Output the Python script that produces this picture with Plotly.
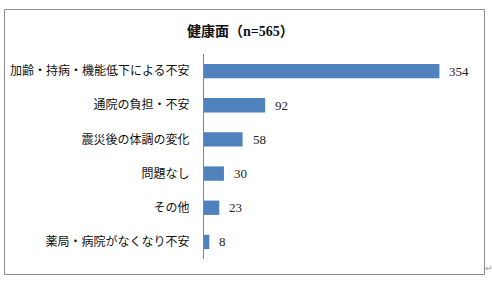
import plotly.graph_objects as go

categories = ["加齢・持病・機能低下による不安", "通院の負担・不安", "震災後の体調の変化", "問題なし", "その他", "薬局・病院がなくなり不安"]
values = [354, 92, 58, 30, 23, 8]
title_text = "健康面（n=565）"

W, H = 492, 286
L, R, T, B = 204, 22, 54, 27
pw = W - L - R
ph = H - T - B

fig = go.Figure(go.Bar(
    x=values, y=categories, orientation="h",
    marker=dict(color="#4F81BD", line=dict(width=0)),
    width=0.42, hoverinfo="x+y",
))

for v, c in zip(values, categories):
    fig.add_annotation(x=v, y=c, text=str(v), showarrow=False, xanchor="left",
                       xshift=8, font=dict(family="Liberation Serif, DejaVu Serif, serif", size=13, color="#222"))

def px_x(p):
    return (p - L) / pw

def px_y(p):
    return 1 - (p - T) / ph

fig.add_shape(type="rect", xref="paper", yref="paper",
              x0=px_x(4.5), x1=px_x(484.5), y0=px_y(274.5), y1=px_y(9.5),
              line=dict(color="#8c8c8c", width=1), fillcolor="rgba(0,0,0,0)", layer="below")

fig.add_annotation(xref="paper", yref="paper", x=px_x(240), y=px_y(31), text="<b>" + title_text + "</b>",
                   showarrow=False, xanchor="center", yanchor="middle",
                   font=dict(family="Liberation Serif, Noto Sans CJK JP", size=14, color="#111"))

fig.add_annotation(xref="paper", yref="paper", x=px_x(489), y=px_y(268), text="↵",
                   showarrow=False, xanchor="center", yanchor="middle",
                   font=dict(family="DejaVu Sans", size=9, color="#999"))

fig.update_layout(
    width=W, height=H,
    margin=dict(l=L, r=R, t=T, b=B, autoexpand=False),
    paper_bgcolor="white", plot_bgcolor="white",
    showlegend=False,
    bargap=0.58,
    xaxis=dict(range=[0, 400], visible=False, fixedrange=True, automargin=False),
    yaxis=dict(autorange="reversed", showline=True, linecolor="#868686", linewidth=1,
               ticks="", ticklabelstandoff=11, showgrid=False, automargin=False,
               tickfont=dict(family="Noto Sans CJK JP", size=12, color="#111")),
)

fig.write_html("out.html")
